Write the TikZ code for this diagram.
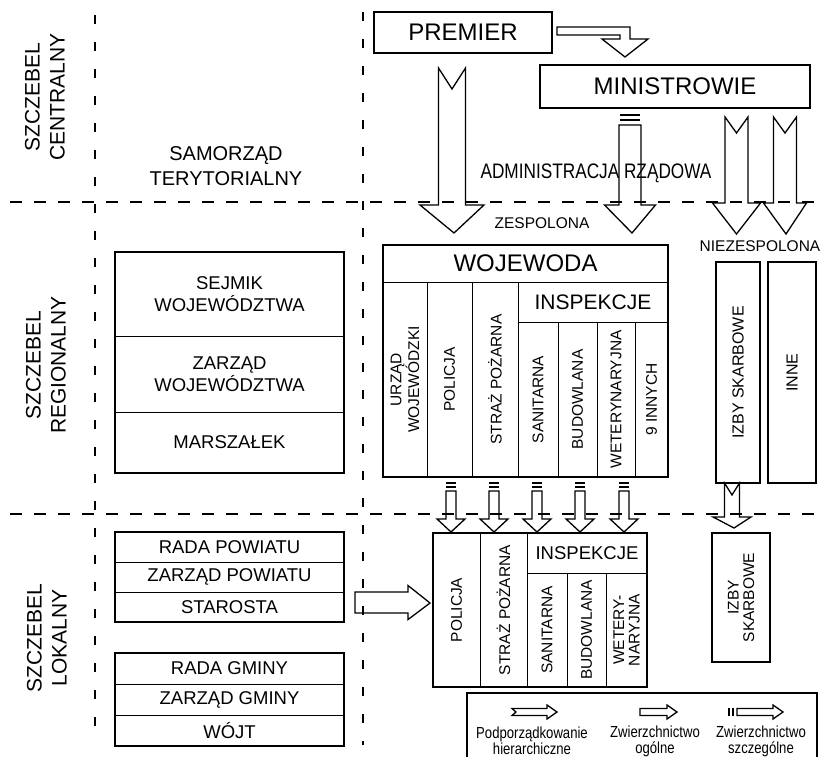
\documentclass[tikz,border=0pt]{standalone}
\usepackage{fontspec}
\setmainfont{Liberation Sans}
\newfontfamily\narrowsans[FakeStretch=0.82]{Liberation Sans}
\usetikzlibrary{positioning,fit,calc}
\tikzset{
  cell/.style={draw, line width=1pt, outer sep=0pt, inner sep=0pt, align=center},
  vcell/.style={cell, rotate=90, font=\fontsize{15.5}{15.5}\selectfont},
  row/.style={cell, minimum width=229pt, font=\fontsize{18.5}{22}\selectfont},
  box/.style={draw, line width=1.8pt, outer sep=0pt, inner sep=0pt, align=center, font=\fontsize{24}{28}\selectfont},
  frame/.style={draw, line width=1.8pt, inner sep=0pt},
  lvl/.style={rotate=90, align=center, inner sep=0pt, font=\fontsize{21}{25}\selectfont},
  lab/.style={align=center, inner sep=0pt, font=\fontsize{15.5}{18}\selectfont},
  legtext/.style={align=center, inner sep=0pt, font=\narrowsans\fontsize{16}{16}\selectfont},
  blk/.style={draw, line width=1.3pt, line join=miter},
  hline/.style={draw, line width=1.1pt, dash pattern=on 12pt off 12pt},
  vline/.style={draw, line width=1.1pt, dash pattern=on 9pt off 18pt}
}
% hollow block arrow downwards: tail, tip, shaft half, head half, head length, notch
\newcommand\blkdown[6]{%
  \draw[blk] let \p1=(#1), \p2=(#2) in
    (\x1-#3,\y1) -- (\x1,\y1-#6) -- (\x1+#3,\y1) -- (\x1+#3,\y2+#5)
    -- (\x1+#4,\y2+#5) -- (\x2,\y2) -- (\x1-#4,\y2+#5) -- (\x1-#3,\y2+#5) -- cycle;}
% hollow block arrow to the right
\newcommand\blkright[6]{%
  \draw[blk] let \p1=(#1), \p2=(#2) in
    (\x1,\y1+#3) -- (\x2-#5,\y1+#3) -- (\x2-#5,\y1+#4) -- (\x2,\y2)
    -- (\x2-#5,\y1-#4) -- (\x2-#5,\y1-#3) -- (\x1,\y1-#3) -- (\x1+#6,\y1) -- cycle;}
% two bars above a tail
\newcommand\barsdown[3]{%
  \draw[blk] let \p1=(#1) in (\x1-#2,\y1+#3) -- (\x1+#2,\y1+#3)
    (\x1-#2,\y1+2*#3) -- (\x1+#2,\y1+2*#3);}

\begin{document}
\begin{tikzpicture}[x=1pt, y=-1pt]
\useasboundingbox (0,0) rectangle (822,757);
% level lines
\draw[hline] (10,202) -- (822,202);
\draw[hline] (10,514) -- (822,514);
\draw[vline] (95,15) -- (95,742);
\draw[vline] (363,12) -- (363,745);

% levels
\node[lvl] (central) at (45,97) {SZCZEBEL\\CENTRALNY};
\node[lvl] (regional) at (46,365) {SZCZEBEL\\REGIONALNY};
\node[lvl] (local) at (47,638) {SZCZEBEL\\LOKALNY};
\node[align=center, inner sep=0pt, font=\fontsize{20}{25}\selectfont] (samorzad) at (226,166) {SAMORZĄD\\TERYTORIALNY};

% central government
\node[box, minimum width=178pt, minimum height=41pt] (premier) at (463,32.5) {PREMIER};
\node[box, minimum width=270pt, minimum height=43pt] (ministrowie) at (675,86.5) {MINISTROWIE};
\node[lab, font=\narrowsans\fontsize{21}{22}\selectfont] (admin) at (596,173) {ADMINISTRACJA RZĄDOWA};
\node[lab] (zesp) at (542,223) {ZESPOLONA};
\node[lab] (niezesp) at (760,246) {NIEZESPOLONA};

% self-government, region
\node[row, minimum height=84pt] (sejmik) at (229.5,294) {SEJMIK\\WOJEWÓDZTWA};
\node[row, minimum height=76pt, below=0pt of sejmik] (zarzadw) {ZARZĄD\\WOJEWÓDZTWA};
\node[row, minimum height=61pt, below=0pt of zarzadw] (marszalek) {MARSZAŁEK};
\node[frame, fit=(sejmik)(marszalek)] (sejmikbox) {};

% self-government, local
\node[row, minimum height=30pt] (radap) at (229.5,547) {RADA POWIATU};
\node[row, minimum height=30pt, below=0pt of radap] (zarzadp) {ZARZĄD POWIATU};
\node[row, minimum height=30pt, below=0pt of zarzadp] (starosta) {STAROSTA};
\node[frame, fit=(radap)(starosta)] (powiatbox) {};
\node[row, minimum height=31pt] (radag) at (229.5,668.5) {RADA GMINY};
\node[row, minimum height=31pt, below=0pt of radag] (zarzadg) {ZARZĄD GMINY};
\node[row, minimum height=31pt, below=0pt of zarzadg] (wojt) {WÓJT};
\node[frame, fit=(radag)(wojt)] (gminabox) {};

% wojewoda and combined services
\node[cell, minimum width=285pt, minimum height=37pt, font=\fontsize{24}{28}\selectfont] (wojewoda) at (525.5,263.5) {WOJEWODA};
\node[vcell, minimum width=195pt, minimum height=44pt] (urzad) at (405,379.5) {URZĄD\\WOJEWÓDZKI};
\node[vcell, minimum width=195pt, minimum height=45pt] (policja) at (449.5,379.5) {POLICJA};
\node[vcell, minimum width=195pt, minimum height=46pt] (straz) at (495,379.5) {STRAŻ POŻARNA};
\node[cell, minimum width=150pt, minimum height=40pt, font=\fontsize{21}{24}\selectfont] (inspekcje) at (593,302) {INSPEKCJE};
\node[vcell, minimum width=155pt, minimum height=40pt] (sanitarna) at (538,399.5) {SANITARNA};
\node[vcell, minimum width=155pt, minimum height=39pt] (budowlana) at (577.5,399.5) {BUDOWLANA};
\node[vcell, minimum width=155pt, minimum height=38pt] (weter) at (616,399.5) {WETERYNARYJNA};
\node[vcell, minimum width=155pt, minimum height=33pt] (innych) at (651.5,399.5) {9 INNYCH};
\node[frame, fit=(wojewoda)(urzad)(innych)] (wojblock) {};

% non-combined services
\node[vcell, line width=1.8pt, minimum width=221pt, minimum height=44pt, font=\fontsize{16}{16}\selectfont] (izby) at (738,372.5) {IZBY SKARBOWE};
\node[vcell, line width=1.8pt, minimum width=221pt, minimum height=48pt, font=\fontsize{16}{16}\selectfont] (inne) at (792,372.5) {INNE};

% powiat services
\node[vcell, minimum width=154pt, minimum height=47pt] (policja2) at (456.5,610) {POLICJA};
\node[vcell, minimum width=154pt, minimum height=47pt] (straz2) at (503.5,610) {STRAŻ POŻARNA};
\node[cell, minimum width=120pt, minimum height=40pt, font=\fontsize{18.5}{22}\selectfont] (inspekcje2) at (587,553) {INSPEKCJE};
\node[vcell, minimum width=114pt, minimum height=40pt] (sanitarna2) at (547,630) {SANITARNA};
\node[vcell, minimum width=114pt, minimum height=39pt] (budowlana2) at (586.5,630) {BUDOWLANA};
\node[vcell, minimum width=114pt, minimum height=41pt] (weter2) at (626.5,630) {WETERY-\\NARYJNA};
\node[frame, fit=(policja2)(inspekcje2)(weter2)] (powiatblock) {};
\node[vcell, line width=1.8pt, minimum width=129pt, minimum height=58pt] (izby2) at (741,597.5) {IZBY\\SKARBOWE};

% arrows
\coordinate (pm1) at (557,31);
\coordinate (pm2) at (625,57);
\draw[blk] let \p1=(pm1), \p2=(pm2) in (\x1,\y1+4pt) -- (\x2+5pt,\y1+4pt) -- (\x2+5pt,\y2+18pt)
  -- (\x2+23pt,\y2+18pt) -- (\x2,\y2) -- (\x2-23pt,\y2+18pt) -- (\x2-5pt,\y2+18pt)
  -- (\x2-5pt,\y1-4pt) -- (\x1,\y1-4pt) -- cycle;
\coordinate (pw1) at (452,68);
\coordinate (pw2) at (454,233);
\blkdown{pw1}{pw2}{13.5pt}{32pt}{28pt}{21pt}
\coordinate (mi1) at (630,125);
\coordinate (mi2) at (632,233);
\barsdown{mi1}{10pt}{5pt}
\blkdown{mi1}{mi2}{11pt}{25.5pt}{28pt}{0pt}
\coordinate (nz1) at (736.5,117);
\coordinate (nz2) at (736.5,234);
\blkdown{nz1}{nz2}{11.5pt}{24pt}{31pt}{16pt}
\coordinate (nz3) at (785,117);
\coordinate (nz4) at (786,234);
\blkdown{nz3}{nz4}{11.5pt}{21.5pt}{31pt}{16pt}
\foreach \cx [count=\i] in {451,494,537,580,624} {
  \coordinate (sa\i) at (\cx,491);
  \coordinate (sb\i) at (\cx,532);
  \barsdown{sa\i}{5pt}{4pt}
  \blkdown{sa\i}{sb\i}{5pt}{14pt}{13pt}{0pt}
}
\coordinate (iz1) at (732,483);
\coordinate (iz2) at (734,528);
\blkdown{iz1}{iz2}{7.5pt}{19pt}{11pt}{12pt}
\coordinate (st1) at (355,602.5);
\coordinate (st2) at (430,603);
\blkright{st1}{st2}{10.5pt}{17pt}{22pt}{0pt}

% legend
\draw[line width=1.2pt] (467,760) |- (817,693) -- (817,760);
\coordinate (lg1) at (512,712);
\coordinate (lg2) at (557,712);
\blkright{lg1}{lg2}{3.5pt}{7pt}{10pt}{4pt}
\coordinate (lg3) at (640,712);
\coordinate (lg4) at (677,712);
\blkright{lg3}{lg4}{3.5pt}{7pt}{10pt}{0pt}
\coordinate (lg5) at (737,712);
\coordinate (lg6) at (783,712);
\blkright{lg5}{lg6}{3.5pt}{7pt}{10pt}{0pt}
\draw[blk] (729,708) -- (729,716) (733,708) -- (733,716);
\node[legtext] (hier) at (532,741) {Podporządkowanie\\hierarchiczne};
\node[legtext] (ogolne) at (655,741) {Zwierzchnictwo\\ogólne};
\node[legtext] (szczeg) at (761,741) {Zwierzchnictwo\\szczególne};
\end{tikzpicture}
\end{document}
